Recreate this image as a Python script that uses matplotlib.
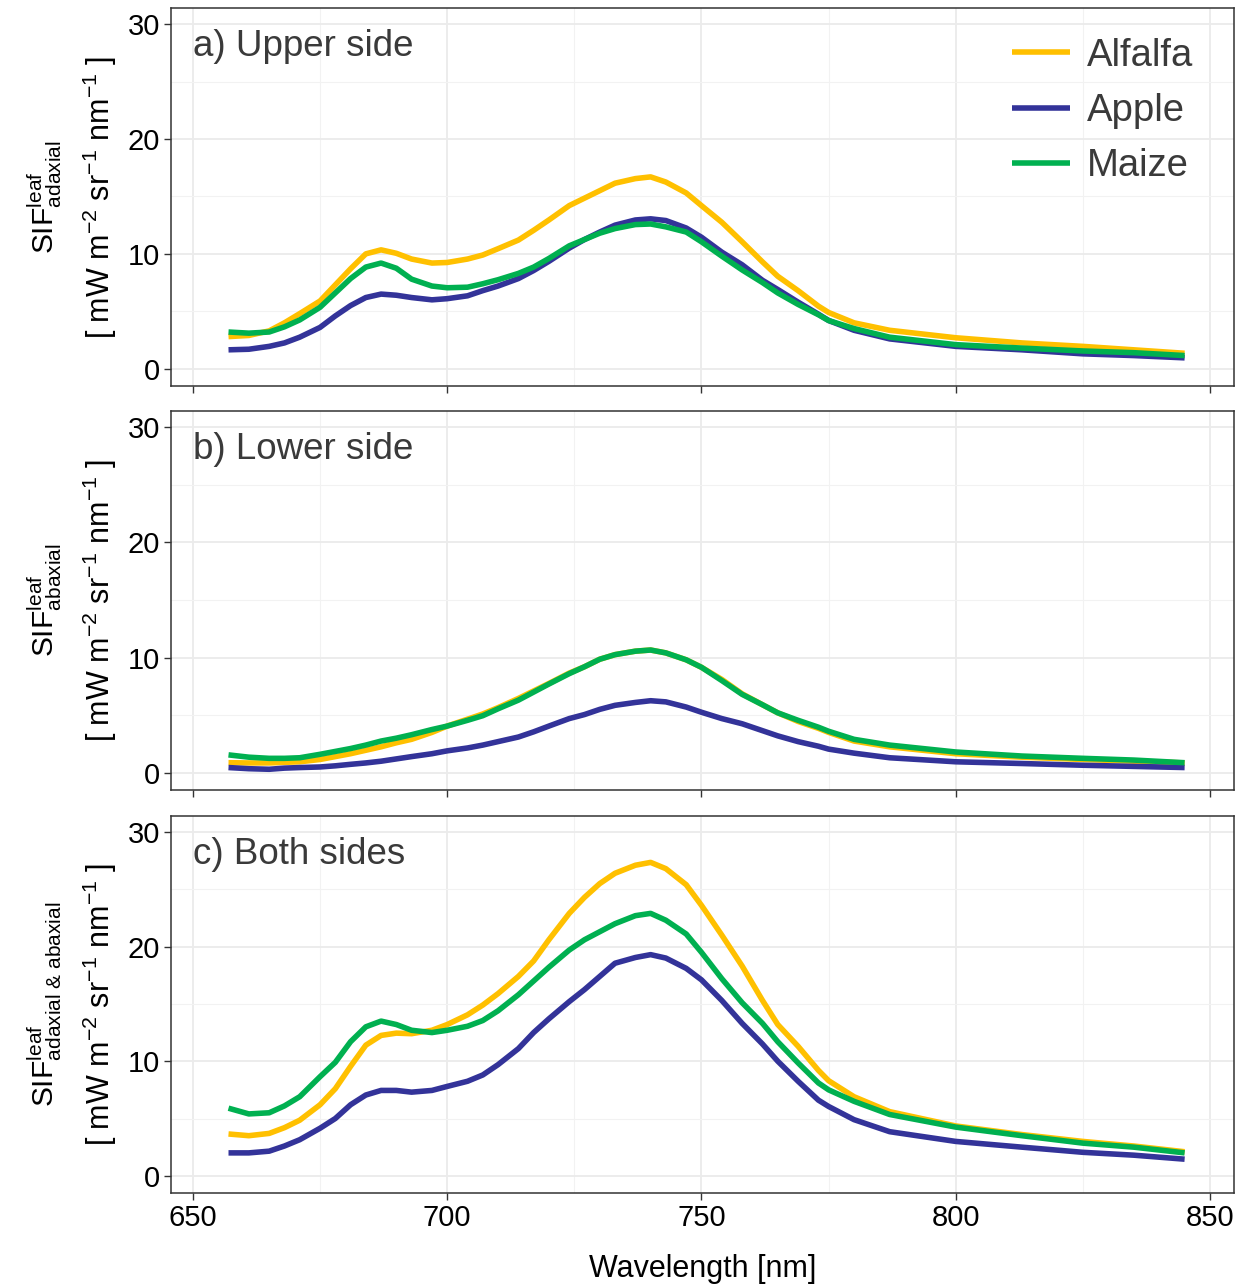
import matplotlib
matplotlib.use("Agg")
import matplotlib.pyplot as plt
from matplotlib.ticker import MultipleLocator

plt.rcParams['font.family'] = ['Liberation Sans', 'DejaVu Sans']
plt.rcParams['mathtext.fontset'] = 'custom'
plt.rcParams['mathtext.rm'] = 'Liberation Sans'
plt.rcParams['mathtext.it'] = 'Liberation Sans'

# wavelengths (nm)
wl = [657, 661, 665, 668, 671, 675, 678, 681, 684, 687, 690, 693, 697, 700, 704,
      707, 710, 714, 717, 720, 724, 727, 730, 733, 737, 740, 743, 747, 750, 754,
      758, 762, 765, 769, 773, 775, 780, 787, 800, 813, 825, 835, 845]

species = ['Alfalfa', 'Apple', 'Maize']
colors = ['#FFC000', '#333399', '#00B050']

# a) upper side (adaxial)
upper_alfalfa = [2.8, 2.9, 3.3, 4.0, 4.8, 5.9, 7.3, 8.7, 10.0, 10.35, 10.05, 9.55, 9.2, 9.25, 9.55,
                 9.9, 10.45, 11.2, 12.05, 12.95, 14.2, 14.85, 15.5, 16.15, 16.55, 16.7, 16.25, 15.3, 14.2, 12.75,
                 11.05, 9.3, 8.05, 6.8, 5.45, 4.9, 4.0, 3.35, 2.7, 2.25, 1.95, 1.65, 1.35]
upper_apple = [1.65, 1.7, 1.95, 2.25, 2.75, 3.6, 4.6, 5.5, 6.2, 6.5, 6.4, 6.2, 6.0, 6.1, 6.35,
               6.8, 7.2, 7.85, 8.55, 9.35, 10.5, 11.25, 11.9, 12.5, 12.95, 13.05, 12.9, 12.25, 11.45, 10.15,
               9.05, 7.7, 6.9, 5.8, 4.75, 4.2, 3.35, 2.6, 1.95, 1.65, 1.3, 1.15, 0.95]
upper_maize = [3.2, 3.1, 3.2, 3.65, 4.25, 5.35, 6.6, 7.85, 8.85, 9.2, 8.75, 7.8, 7.2, 7.05, 7.1,
               7.4, 7.75, 8.3, 8.85, 9.6, 10.7, 11.25, 11.8, 12.2, 12.55, 12.6, 12.35, 11.9, 11.05, 9.8,
               8.6, 7.5, 6.6, 5.6, 4.7, 4.2, 3.5, 2.75, 2.1, 1.8, 1.55, 1.4, 1.15]

# b) lower side (abaxial)
lower_alfalfa = [0.87, 0.85, 0.85, 0.9, 0.95, 1.15, 1.4, 1.65, 1.95, 2.25, 2.6, 2.9, 3.5, 4.05, 4.65,
                 5.1, 5.65, 6.45, 7.1, 7.75, 8.65, 9.2, 9.85, 10.25, 10.55, 10.65, 10.4, 9.8, 9.15, 8.1,
                 6.85, 5.9, 5.2, 4.45, 3.85, 3.5, 2.75, 2.25, 1.65, 1.35, 1.15, 1.0, 0.85]
lower_apple = [0.45, 0.35, 0.3, 0.4, 0.45, 0.5, 0.6, 0.73, 0.85, 1.0, 1.2, 1.4, 1.65, 1.9, 2.15,
               2.4, 2.7, 3.1, 3.55, 4.05, 4.7, 5.05, 5.5, 5.85, 6.1, 6.25, 6.15, 5.7, 5.25, 4.7,
               4.25, 3.65, 3.2, 2.7, 2.3, 2.05, 1.7, 1.3, 0.95, 0.8, 0.65, 0.55, 0.45]
lower_maize = [1.55, 1.35, 1.25, 1.25, 1.3, 1.6, 1.85, 2.1, 2.4, 2.75, 3.0, 3.3, 3.75, 4.05, 4.55,
               4.95, 5.55, 6.3, 7.0, 7.7, 8.6, 9.2, 9.85, 10.25, 10.55, 10.65, 10.4, 9.8, 9.15, 8.0,
               6.8, 5.9, 5.2, 4.55, 3.95, 3.6, 2.9, 2.4, 1.8, 1.45, 1.25, 1.1, 0.87]

# c) both sides
both_alfalfa = [3.65, 3.5, 3.7, 4.2, 4.85, 6.2, 7.6, 9.55, 11.4, 12.25, 12.45, 12.4, 12.7, 13.2, 14.05,
                14.9, 15.9, 17.4, 18.75, 20.6, 22.9, 24.3, 25.5, 26.4, 27.1, 27.35, 26.8, 25.4, 23.6, 21.0,
                18.3, 15.3, 13.2, 11.3, 9.2, 8.3, 6.9, 5.6, 4.35, 3.6, 3.0, 2.6, 2.1]
both_apple = [2.0, 2.0, 2.15, 2.6, 3.15, 4.15, 5.0, 6.2, 7.05, 7.45, 7.45, 7.3, 7.45, 7.8, 8.25,
              8.8, 9.7, 11.1, 12.5, 13.7, 15.2, 16.25, 17.4, 18.55, 19.05, 19.3, 19.0, 18.1, 17.1, 15.3,
              13.3, 11.5, 10.0, 8.25, 6.6, 6.05, 4.9, 3.85, 3.0, 2.5, 2.05, 1.8, 1.45]
both_maize = [5.9, 5.4, 5.5, 6.1, 6.9, 8.65, 9.9, 11.7, 13.0, 13.5, 13.2, 12.7, 12.5, 12.7, 13.05,
              13.55, 14.4, 15.8, 17.0, 18.2, 19.7, 20.6, 21.3, 22.0, 22.7, 22.9, 22.3, 21.1, 19.5, 17.2,
              15.1, 13.3, 11.7, 9.85, 8.1, 7.5, 6.5, 5.35, 4.25, 3.5, 2.85, 2.5, 2.0]

panels = [
    ('a) Upper side', r'$\mathrm{SIF}^{\mathrm{leaf}}_{\mathrm{adaxial}}$',
     [upper_alfalfa, upper_apple, upper_maize]),
    ('b) Lower side', r'$\mathrm{SIF}^{\mathrm{leaf}}_{\mathrm{abaxial}}$',
     [lower_alfalfa, lower_apple, lower_maize]),
    ('c) Both sides', r'$\mathrm{SIF}^{\mathrm{leaf}}_{\mathrm{adaxial\ &\ abaxial}}$',
     [both_alfalfa, both_apple, both_maize]),
]
unit_label = r'[ mW m$^{-2}$ sr$^{-1}$ nm$^{-1}$ ]'

fig = plt.figure(figsize=(12.53, 12.85), dpi=100)
boxes = [(0.1365, 0.6996, 0.8483, 0.2942),
         (0.1365, 0.3852, 0.8483, 0.2950),
         (0.1365, 0.0716, 0.8483, 0.2934)]

for i, (title, ylab, series) in enumerate(panels):
    ax = fig.add_axes(boxes[i])
    ax.set_axisbelow(True)
    ax.xaxis.set_major_locator(MultipleLocator(50))
    ax.xaxis.set_minor_locator(MultipleLocator(25))
    ax.yaxis.set_major_locator(MultipleLocator(10))
    ax.yaxis.set_minor_locator(MultipleLocator(5))
    ax.grid(which='major', color='#ebebeb', linewidth=1.3)
    ax.grid(which='minor', color='#f2f2f2', linewidth=0.8)
    for name, col, vals in zip(species, colors, series):
        ax.plot(wl, vals, color=col, linewidth=4.0, label=name, solid_capstyle='butt')
    ax.set_xlim(645.7, 854.7)
    ax.set_ylim(-1.5, 31.4)
    for s in ax.spines.values():
        s.set_color('#333333')
        s.set_linewidth(1.1)
    ax.tick_params(which='major', length=5, width=1.0, color='#333333', labelsize=21,
                   labelcolor='black', pad=3)
    ax.tick_params(which='minor', length=0)
    if i < 2:
        ax.tick_params(axis='x', labelbottom=False)
    ax.text(0.0207, 0.897, title, transform=ax.transAxes, fontsize=26.5,
            color='#3a3a3a', va='center', ha='left')
    if i == 0:
        ax.legend(loc='upper right', bbox_to_anchor=(0.994, 1.012), frameon=False,
                  fontsize=27.5, handlelength=1.5, handletextpad=0.45,
                  labelspacing=0.5, labelcolor='#3a3a3a')
    if i == 2:
        ax.set_xlabel('Wavelength [nm]', fontsize=22, labelpad=16)
    yc = boxes[i][1] + boxes[i][3] / 2
    fig.text(0.036, yc, ylab, rotation=90, fontsize=21.5, ha='center', va='center')
    fig.text(0.080, yc, unit_label, rotation=90, fontsize=22, ha='center', va='center')

fig.savefig('out.png', dpi=100)
